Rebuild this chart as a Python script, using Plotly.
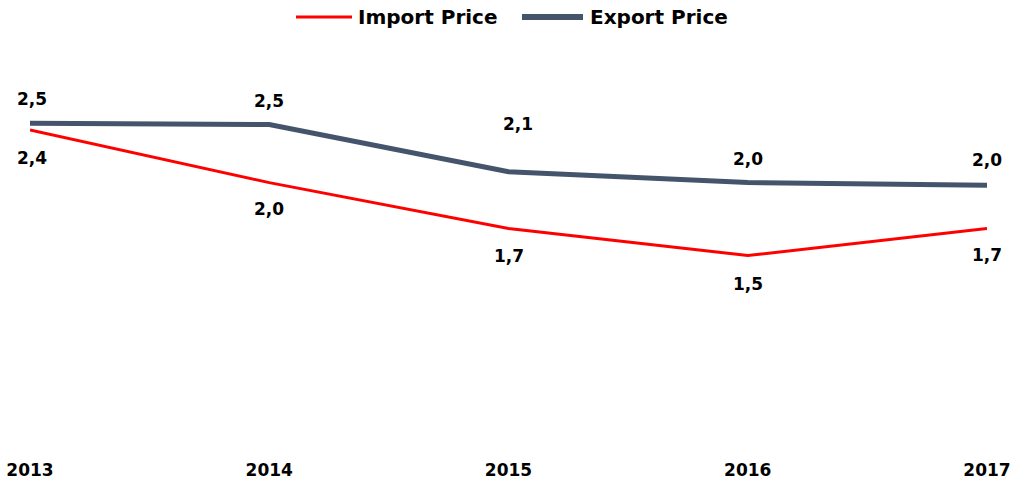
import plotly.graph_objects as go

years = ["2013", "2014", "2015", "2016", "2017"]
import_price = [2.43, 2.04, 1.70, 1.50, 1.70]
export_price = [2.48, 2.47, 2.12, 2.04, 2.02]
series_names = ["Import Price", "Export Price"]

FONT = "DejaVu Sans"
RED = "#FF0000"
SLATE = "#44546A"
W, H = 1015, 479
ML, MR, MT, MB = 30, 28, 100, 21

def px_x(p):
    return (p - ML) / (W - ML - MR)

def px_y(p):
    return (H - MB - p) / (H - MT - MB)

fig = go.Figure()
fig.add_trace(go.Scatter(x=years, y=import_price, mode="lines", name=series_names[0],
                         line=dict(color=RED, width=3), showlegend=False))
fig.add_trace(go.Scatter(x=years, y=export_price, mode="lines", name=series_names[1],
                         line=dict(color=SLATE, width=5), showlegend=False))

def fmt(v):
    return f"{v:.1f}".replace(".", ",")

label_font = dict(family=FONT, size=17, color="black", weight="bold")
annotations = []
exp_shift = [(2, 24), (0, 24), (9, 48), (0, 24), (0, 25)]
imp_shift = [(2, -28), (0, -26), (0, -27), (0, -28), (0, -26)]
for i, y in enumerate(years):
    annotations.append(dict(x=i, y=export_price[i], xref="x", yref="y", text=fmt(export_price[i]),
                            showarrow=False, xshift=exp_shift[i][0], yshift=exp_shift[i][1],
                            font=label_font))
    annotations.append(dict(x=i, y=import_price[i], xref="x", yref="y", text=fmt(import_price[i]),
                            showarrow=False, xshift=imp_shift[i][0], yshift=imp_shift[i][1],
                            font=label_font))

# legend (drawn manually to match the long line samples)
legend_items = [(series_names[0], RED, 3, 296, 352, 356), (series_names[1], SLATE, 6, 522, 583, 588)]
shapes = []
ly = px_y(17)
for name, color, width, x0, x1, tx in legend_items:
    shapes.append(dict(type="line", xref="paper", yref="paper", x0=px_x(x0), x1=px_x(x1),
                       y0=ly, y1=ly, line=dict(color=color, width=width)))
    annotations.append(dict(xref="paper", yref="paper", x=px_x(tx), y=ly, xanchor="left",
                            yanchor="middle", text=name, showarrow=False,
                            font=dict(family=FONT, size=20, color="black", weight="bold")))

fig.update_layout(
    width=W, height=H,
    margin=dict(l=ML, r=MR, t=MT, b=MB, autoexpand=False),
    plot_bgcolor="white", paper_bgcolor="white",
    separators=",.",
    font=dict(family=FONT, size=15, color="black"),
    showlegend=False,
    annotations=annotations,
    shapes=shapes,
    xaxis=dict(type="category", range=[0, 4], showgrid=False, zeroline=False, showline=False,
               automargin=False, ticks="",
               tickfont=dict(family=FONT, size=17, color="black", weight="bold")),
    yaxis=dict(range=[0, 2.652], showticklabels=False, showgrid=False, zeroline=False,
               showline=False, ticks="", automargin=False),
)

fig.write_html("out.html", config={"displayModeBar": False},
               post_script="document.body.style.margin='0';document.body.style.overflow='hidden';")
